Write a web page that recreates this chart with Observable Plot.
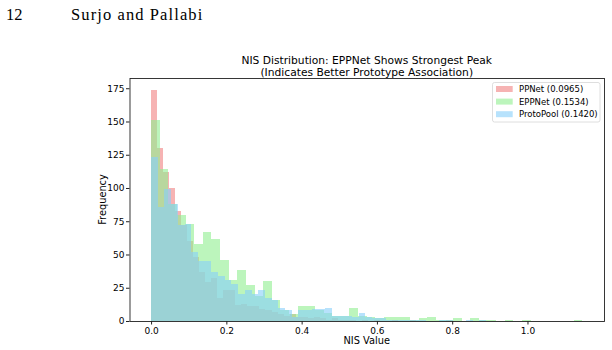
<!DOCTYPE html>
<html>
<head>
<meta charset="utf-8">
<script src="https://cdn.jsdelivr.net/npm/d3@7"></script>
<script src="https://cdn.jsdelivr.net/npm/@observablehq/plot@0.6"></script>
<style>
  html, body { margin: 0; padding: 0; background: #fff; }
  #chart { position: relative; width: 612px; height: 350px; }
</style>
</head>
<body>
<div id="chart"></div>
<script>
// ---- data ----
const pageNumber = "12";
const pageHeader = "Surjo and Pallabi";
const titleLines = ["NIS Distribution: EPPNet Shows Strongest Peak", "(Indicates Better Prototype Association)"];
const xLabel = "NIS Value";
const yLabel = "Frequency";

const seriesNames = ["PPNet", "EPPNet", "ProtoPool"];
const seriesMeans = ["0.0965", "0.1534", "0.1420"];
const seriesColors = ["#F08080", "#90EE90", "#87CEFA"];
// histogram ranges (min, max) with 50 bins each
const seriesRanges = [[0, 0.8], [0, 1.146], [0, 0.89]];

const ppnetCounts = [174, 130, 112, 100, 83, 72, 60, 48, 37, 29,
  32, 17, 23, 23, 12, 13, 11, 11, 9, 8,
  7, 5, 4, 5, 3, 3, 2, 3, 2, 1,
  2, 1, 1, 1, 0, 1, 0, 1, 0, 0,
  1, 0, 0, 1, 0, 0, 0, 0, 0, 1];
const eppnetCounts = [151, 114, 88, 80, 73, 58, 67, 62, 46, 31,
  38, 27, 19, 30, 16, 8, 5, 11, 11, 8,
  6, 4, 4, 10, 4, 3, 2, 3, 3, 3,
  1, 2, 3, 1, 1, 2, 0, 2, 1, 1,
  0, 1, 0, 1, 0, 0, 0, 0, 0, 1];
const protoCounts = [123, 86, 99, 88, 72, 73, 52, 45, 45, 37,
  34, 31, 28, 20, 23, 20, 23, 17, 16, 10,
  8, 3, 8, 8, 9, 9, 10, 4, 4, 4,
  3, 6, 3, 2, 2, 1, 1, 1, 1, 1,
  1, 0, 0, 1, 1, 0, 0, 1, 0, 1];
const allCounts = [ppnetCounts, eppnetCounts, protoCounts];

const xTicks = [0, 0.2, 0.4, 0.6, 0.8, 1.0];
const yTicks = [0, 25, 50, 75, 100, 125, 150, 175];

// ---- build bins ----
const bins = [];
allCounts.forEach((counts, s) => {
  const [lo, hi] = seriesRanges[s];
  const w = (hi - lo) / counts.length;
  counts.forEach((c, i) => {
    bins.push({series: seriesNames[s], x1: lo + i * w, x2: lo + (i + 1) * w, count: c});
  });
});

const dataMax = d3.max(seriesRanges, r => r[1]);
const dataMin = 0;
const pad = 0.05 * (dataMax - dataMin);
const yMax = 1.05 * d3.max(allCounts.flat());

const W = 612, H = 350;
const mL = 129.5, mR = 8, mT = 78, mB = 29;

const plot = Plot.plot({
  width: W, height: H,
  marginLeft: mL, marginRight: mR, marginTop: mT, marginBottom: mB,
  style: {fontFamily: "DejaVu Sans", fontSize: "9px", color: "#000", background: "transparent"},
  x: {domain: [dataMin - pad, dataMax + pad]},
  y: {domain: [0, yMax]},
  color: {domain: seriesNames, range: seriesColors},
  marks: [
    Plot.rectY(bins, {x1: "x1", x2: "x2", y1: 0, y2: "count", fill: "series", fillOpacity: 0.6, shapeRendering: "crispEdges"}),
    Plot.frame({stroke: "#222", strokeWidth: 0.9}),
    Plot.axisX({ticks: xTicks, tickFormat: d3.format(".1f"), tickSize: 3.5, tickPadding: 3, label: null, stroke: "#222"}),
    Plot.axisY({ticks: yTicks, tickSize: 3.5, tickPadding: 2, label: null, stroke: "#222"})
  ]
});

document.getElementById("chart").appendChild(plot);

// ---- extra texts & legend inside the svg ----
const svg = d3.select(plot);
const g = svg.append("g").attr("text-anchor", "start");

// page header
g.append("text").attr("x", 6).attr("y", 19.5).attr("text-anchor", "start")
  .style("font-family", "'Liberation Serif', serif").style("font-size", "16.5px")
  .text(pageNumber);
g.append("text").attr("x", 71).attr("y", 19.5).attr("text-anchor", "start")
  .style("font-family", "'Liberation Serif', serif").style("font-size", "16.5px")
  .style("letter-spacing", "1.1px")
  .text(pageHeader);

// title
const cx = mL + (W - mL - mR) / 2;
titleLines.forEach((t, i) => {
  g.append("text").attr("x", cx).attr("y", 64 + i * 12)
    .attr("text-anchor", "middle")
    .style("font-family", "DejaVu Sans").style("font-size", "10.7px")
    .text(t);
});

// axis labels
g.append("text").attr("x", cx).attr("y", 344)
  .attr("text-anchor", "middle")
  .style("font-family", "DejaVu Sans").style("font-size", "9.8px")
  .text(xLabel);
g.append("text")
  .attr("transform", `translate(106,${mT + (H - mT - mB) / 2}) rotate(-90)`)
  .attr("text-anchor", "middle")
  .style("font-family", "DejaVu Sans").style("font-size", "9.8px")
  .text(yLabel);

// legend
const lg = g.append("g");
lg.append("rect").attr("x", 492.5).attr("y", 82.5).attr("width", 107.5).attr("height", 39.5)
  .attr("rx", 2).attr("fill", "#fff").attr("fill-opacity", 0.8)
  .attr("stroke", "#d6d6d6").attr("stroke-width", 0.8);
seriesNames.forEach((name, i) => {
  const yy = 89 + i * 12.6;
  lg.append("rect").attr("x", 496).attr("y", yy - 3).attr("width", 16.7).attr("height", 6)
    .attr("fill", seriesColors[i]).attr("fill-opacity", 0.6);
  lg.append("text").attr("x", 519).attr("y", yy + 3).attr("text-anchor", "start")
    .style("font-family", "DejaVu Sans").style("font-size", "8.5px")
    .text(`${name} (${seriesMeans[i]})`);
});
</script>
</body>
</html>
